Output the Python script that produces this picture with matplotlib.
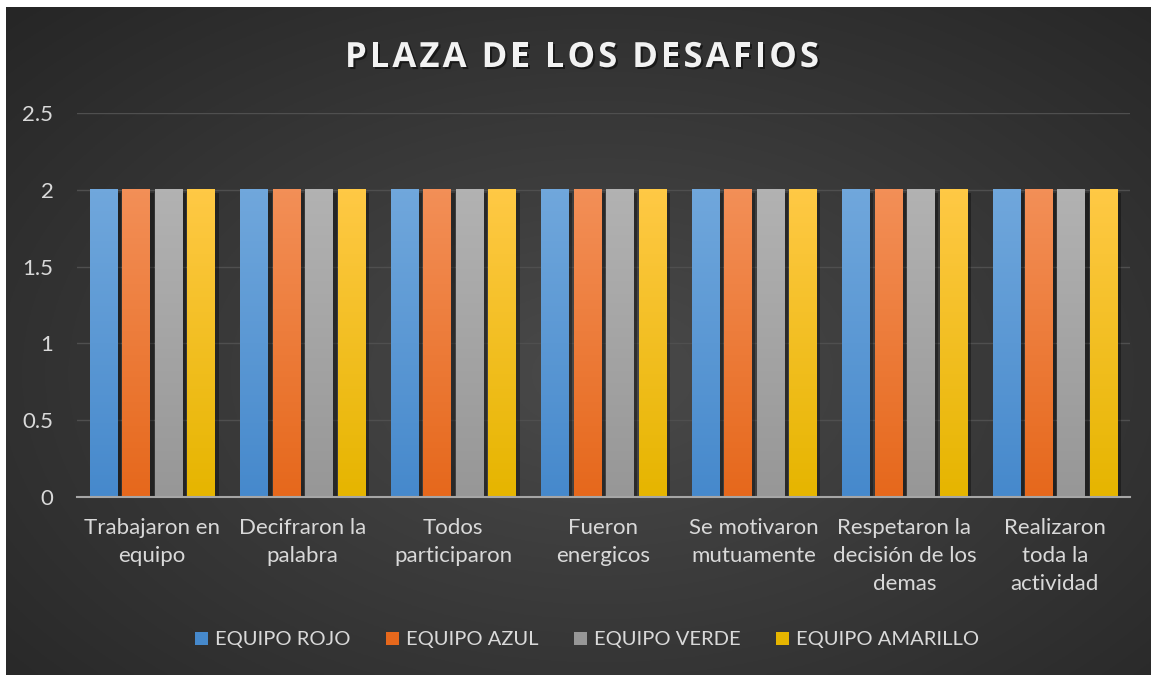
import matplotlib
matplotlib.use('Agg')
from matplotlib import pyplot as plt
from matplotlib.patches import Patch
import matplotlib.patheffects as pe
import numpy as np

# datos del grafico
categorias = ['Trabajaron en\nequipo', 'Decifraron la\npalabra', 'Todos\nparticiparon',
              'Fueron\nenergicos', 'Se motivaron\nmutuamente',
              'Respetaron la\ndecisión de los\ndemas', 'Realizaron\ntoda la\nactividad']
equipos = ['EQUIPO ROJO', 'EQUIPO AZUL', 'EQUIPO VERDE', 'EQUIPO AMARILLO']
rojo = [2, 2, 2, 2, 2, 2, 2]
azul = [2, 2, 2, 2, 2, 2, 2]
verde = [2, 2, 2, 2, 2, 2, 2]
amarillo = [2, 2, 2, 2, 2, 2, 2]
yticks = [0, 0.5, 1, 1.5, 2, 2.5]

# colores (arriba, abajo) para el degradado de cada serie
colores = [('#70a7dc', '#4689cc'), ('#f38f57', '#e6681c'),
           ('#b2b2b2', '#979797'), ('#ffc945', '#e6b500')]
texto = '#d9d9d9'
fuente = 'Lato'

W, H = 1151, 675
fig = plt.figure(figsize=(W / 100, H / 100), dpi=100)
fig.patch.set_facecolor('white')

# fondo con degradado radial
bg = fig.add_axes([6 / W, 0, (W - 6) / W, (H - 7) / H], zorder=0)
yy, xx = np.mgrid[0:1:300j, 0:1:500j]
r = np.sqrt(((xx - 0.52) / 0.75) ** 2 + ((yy - 0.45) / 0.8) ** 2)
r = np.clip(r, 0, 1)
c0, c1 = np.array([0x4a, 0x4a, 0x4a]) / 255, np.array([0x25, 0x25, 0x25]) / 255
img = c0[None, None, :] * (1 - r[..., None]) + c1[None, None, :] * r[..., None]
bg.imshow(img, aspect='auto', extent=(0, 1, 0, 1), origin='lower')
bg.axis('off')

ax = fig.add_axes([77 / W, (H - 497) / H, 1053 / W, 384 / H], zorder=1)
ax.set_facecolor('none')

x = np.arange(len(categorias))
ancho = 0.18
paso = 0.216
series = [rojo, azul, verde, amarillo]
grad = np.linspace(0, 1, 100)[:, None]
for i, (vals, (top, bot)) in enumerate(zip(series, colores)):
    barras = ax.bar(x + (i - 1.5) * paso, vals, ancho, color=top, zorder=3,
                    path_effects=[pe.SimplePatchShadow(offset=(3, -2), shadow_rgbFace='black', alpha=0.35),
                                  pe.Normal()])
    cmap = matplotlib.colors.LinearSegmentedColormap.from_list('g%d' % i, [bot, top])
    for b in barras:
        ax.imshow(grad, cmap=cmap, aspect='auto', origin='lower', zorder=3.5,
                  extent=(b.get_x(), b.get_x() + b.get_width(), 0, b.get_height()))

ax.set_xlim(-0.5, len(categorias) - 0.5)
ax.set_ylim(0, 2.5)
ax.set_yticks(yticks)
ax.set_yticklabels(['0', '0.5', '1', '1.5', '2', '2.5'])
ax.set_xticks(x)
ax.set_xticklabels(categorias, linespacing=1.5)
ax.tick_params(length=0, colors=texto, labelsize=16)
ax.tick_params(axis='y', pad=17)
ax.tick_params(axis='x', pad=15)
for lbl in ax.get_xticklabels() + ax.get_yticklabels():
    lbl.set_fontfamily(fuente)
ax.grid(axis='y', color='#4f4f4f', lw=1)
ax.set_axisbelow(True)
for s in ['top', 'right', 'left']:
    ax.spines[s].set_visible(False)
ax.spines['bottom'].set_color('#a6a6a6')
ax.spines['bottom'].set_linewidth(1.5)
ax.spines['bottom'].set_zorder(5)

# leyenda
handles = [Patch(facecolor=bot, label=e) for e, (top, bot) in zip(equipos, colores)]
leg = fig.legend(handles=handles, loc='center', bbox_to_anchor=(587 / W, (H - 640) / H),
                 ncol=4, frameon=False, handlelength=0.65, handleheight=0.65,
                 handletextpad=0.35, columnspacing=1.75,
                 prop={'family': fuente, 'size': 14.5})
for t in leg.get_texts():
    t.set_color(texto)

# titulo con espaciado entre letras
titulo = 'PLAZA DE LOS DESAFIOS'
props = dict(fontsize=25, fontweight='bold', family='Open Sans', color='#f2f2f2')
renderer = fig.canvas.get_renderer()


def ancho_px(s):
    t = fig.text(0, 0, s, **props)
    w = t.get_window_extent(renderer).width
    t.remove()
    return w


esp = ancho_px('P P') - ancho_px('PP')
extra = 3.0
anchos = [esp if ch == ' ' else ancho_px(ch) for ch in titulo]
total = sum(anchos) + extra * (len(titulo) - 1)
xpos = 582 - total / 2
for ch, w in zip(titulo, anchos):
    if ch != ' ':
        fig.text(xpos / W, (H - 58) / H, ch, va='center', ha='left', **props,
                 path_effects=[pe.withSimplePatchShadow(offset=(1.5, -1.5), shadow_rgbFace='black', alpha=0.5)])
    xpos += w + extra

fig.savefig('out.png', dpi=100)
